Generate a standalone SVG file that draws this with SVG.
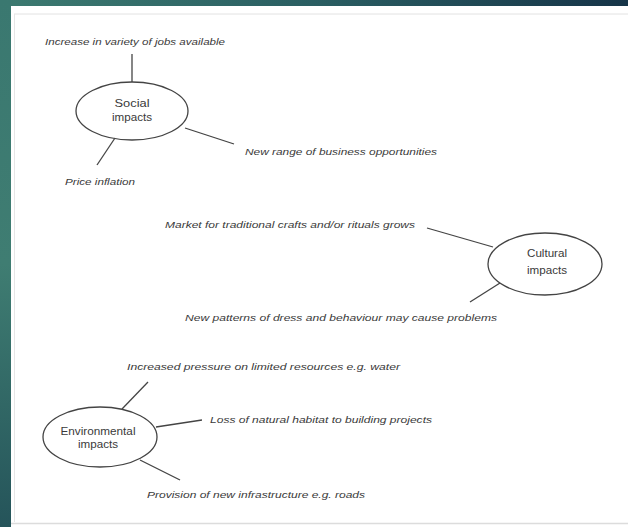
<svg xmlns="http://www.w3.org/2000/svg" width="628" height="527" viewBox="0 0 628 527">
<defs>
<linearGradient id="bg" x1="0" y1="0" x2="1" y2="0">
<stop offset="0" stop-color="#3c7a70"/>
<stop offset="0.5" stop-color="#2a5e62"/>
<stop offset="1" stop-color="#163448"/>
</linearGradient>
<linearGradient id="side" x1="0" y1="0" x2="0" y2="1">
<stop offset="0" stop-color="#3a7870"/>
<stop offset="0.5" stop-color="#3f7d72"/>
<stop offset="1" stop-color="#25545a"/>
</linearGradient>
</defs>
<style>
.lbl{font-family:"Liberation Sans",Arial,sans-serif;font-size:9.5px;font-style:italic;fill:#3a3a3a}
.nt{font-family:"Liberation Sans",Arial,sans-serif;font-size:11px;fill:#3a3a3a;text-anchor:middle}
.node ellipse{fill:none;stroke:#444;stroke-width:1.3}
.conn line{stroke:#444;stroke-width:1.3}
</style>
<rect x="0" y="0" width="628" height="527" fill="url(#bg)"/>
<rect x="0" y="0" width="11" height="527" fill="url(#side)"/>
<rect x="11" y="6" width="617" height="521" fill="#ffffff"/>
<line x1="14" y1="14" x2="628" y2="14" stroke="#e2e2e2" stroke-width="1"/>
<line x1="14.5" y1="14" x2="14.5" y2="522" stroke="#e6e6e6" stroke-width="1"/>
<line x1="11" y1="523.5" x2="628" y2="523.5" stroke="#dcdcdc" stroke-width="1.5"/>

<g class="conn">
<line x1="132" y1="54" x2="132" y2="82"/>
<line x1="115" y1="138" x2="97" y2="165"/>
<line x1="185" y1="128" x2="234" y2="144"/>
<line x1="427" y1="228" x2="493" y2="247"/>
<line x1="500" y1="283" x2="470" y2="302"/>
<line x1="148" y1="382" x2="122" y2="409"/>
<line x1="156" y1="427" x2="202" y2="420"/>
<line x1="140" y1="460" x2="180" y2="480"/>
</g>

<g id="social" class="node">
<ellipse cx="132" cy="111" rx="56" ry="29"/>
<text class="nt" x="132" y="107" textLength="35" lengthAdjust="spacingAndGlyphs">Social</text>
<text class="nt" x="132" y="121" textLength="40" lengthAdjust="spacingAndGlyphs">impacts</text>
</g>
<g id="cultural" class="node">
<ellipse cx="545" cy="264" rx="57" ry="31"/>
<text class="nt" x="547" y="257" textLength="40" lengthAdjust="spacingAndGlyphs">Cultural</text>
<text class="nt" x="547" y="274" textLength="40" lengthAdjust="spacingAndGlyphs">impacts</text>
</g>
<g id="environmental" class="node">
<ellipse cx="100" cy="437" rx="57" ry="30"/>
<text class="nt" x="98" y="435" textLength="75" lengthAdjust="spacingAndGlyphs">Environmental</text>
<text class="nt" x="98" y="448" textLength="40" lengthAdjust="spacingAndGlyphs">impacts</text>
</g>

<g id="labels">
<text class="lbl" x="45" y="45" textLength="180" lengthAdjust="spacingAndGlyphs">Increase in variety of jobs available</text>
<text class="lbl" x="65" y="185" textLength="70" lengthAdjust="spacingAndGlyphs">Price inflation</text>
<text class="lbl" x="245" y="155" textLength="192" lengthAdjust="spacingAndGlyphs">New range of business opportunities</text>
<text class="lbl" x="165" y="228" textLength="250" lengthAdjust="spacingAndGlyphs">Market for traditional crafts and/or rituals grows</text>
<text class="lbl" x="185" y="321" textLength="312" lengthAdjust="spacingAndGlyphs">New patterns of dress and behaviour may cause problems</text>
<text class="lbl" x="127" y="370" textLength="273" lengthAdjust="spacingAndGlyphs">Increased pressure on limited resources e.g. water</text>
<text class="lbl" x="210" y="423" textLength="222" lengthAdjust="spacingAndGlyphs">Loss of natural habitat to building projects</text>
<text class="lbl" x="147" y="498" textLength="218" lengthAdjust="spacingAndGlyphs">Provision of new infrastructure e.g. roads</text>
</g>
</svg>
